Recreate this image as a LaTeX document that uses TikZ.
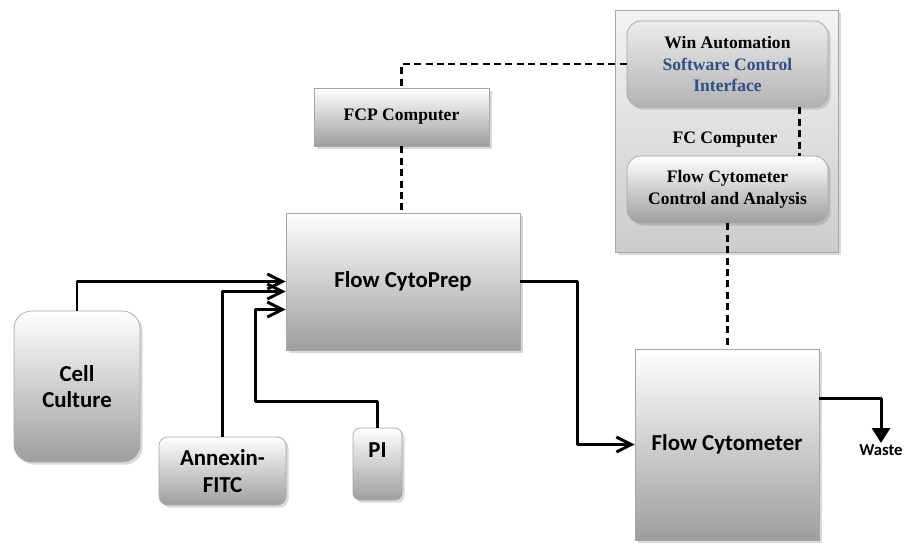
\documentclass[tikz,border=0pt]{standalone}
\usepackage{fontspec}
\setmainfont{Liberation Serif}
\newfontfamily\calib{Carlito}
\usetikzlibrary{arrows.meta,calc,shadows}
\definecolor{swblue}{RGB}{47,80,135}

\begin{document}
\begin{tikzpicture}[x=0.02cm,y=-0.02cm, line join=round,
	box/.style={draw=gray!70, top color=white, bottom color=black!38,
		drop shadow={opacity=.3,shadow xshift=1.5pt,shadow yshift=-1.5pt},
		align=center, inner sep=2pt},
	sbox/.style={box, font=\calib\bfseries\fontsize{13}{15}\selectfont},
	cbox/.style={box, font=\bfseries\fontsize{10}{12.3}\selectfont},
	flow/.style={line width=1.7pt, -{Straight Barb[length=3mm,width=3mm]}},
	link/.style={line width=1.4pt, dash pattern=on 4pt off 2.5pt}]
	\useasboundingbox (0,0) rectangle (906,544);
	% FC computer
	\node[box, top color=gray!10, bottom color=gray!40, minimum width=4.46cm, minimum height=4.84cm] (fcbox) at (726.5,131) {};
	\node[cbox, rounded corners=8pt, top color=gray!15, bottom color=gray!60, minimum width=4.02cm, minimum height=1.72cm] (win) at (727.5,64)
		{Win Automation\\\textcolor{swblue}{Software Control}\\\textcolor{swblue}{Interface}};
	\node[font=\bfseries\fontsize{10}{12.3}\selectfont] (fclabel) at (725,140) {FC Computer};
	\node[cbox, rounded corners=8pt, minimum width=4.02cm, minimum height=1.34cm] (ctrl) at (727.5,189.5) {Flow Cytometer\\Control and Analysis};
	% prep side
	\node[cbox, minimum width=3.5cm, minimum height=1.16cm] (fcp) at (401.5,117) {FCP Computer};
	\node[sbox, minimum width=4.68cm, minimum height=2.74cm] (prep) at (403,281.5) {Flow CytoPrep};
	\node[sbox, rounded corners=10pt, minimum width=2.52cm, minimum height=3.02cm] (cult) at (77,386.5) {Cell\\Culture};
	\node[sbox, rounded corners=5pt, minimum width=2.54cm, minimum height=1.36cm] (annex) at (222.5,471) {Annexin-\\FITC};
	\node[sbox, rounded corners=4pt, minimum width=0.98cm, minimum height=1.44cm, text depth=0.55cm] (pi) at (377.5,464) {PI};
	\node[sbox, minimum width=3.68cm, minimum height=3.82cm] (cyto) at (727,444.5) {Flow Cytometer};
	\node[font=\calib\bfseries\fontsize{9.5}{11.5}\selectfont, anchor=north, inner sep=1pt] (waste) at (881,443) {Waste};
	% fluid lines
	\draw[flow] (cult.north) |- (prep.west);
	\draw[flow] (annex.north) |- ($(prep.west)+(0,10)$);
	\draw[flow] (pi.north) |- ++(-122,-26) |- ($(prep.west)+(0,28)$);
	\draw[flow] (prep.east) -- ++(57,0) |- (cyto.west);
	\draw[line width=1.7pt, -{Triangle[length=3mm,width=3.6mm]}] ($(cyto.east)+(0,-46)$) -| (waste.north);
	% data links
	\draw[link] (win.west) -| (fcp.north);
	\draw[link] (fcp.south) -- (fcp.south |- prep.north);
	\draw[link] ($(win.south east)+(-29,0)$) -- ($(ctrl.north east)+(-29,0)$);
	\draw[link] (ctrl.south) -- (ctrl.south |- cyto.north);
\end{tikzpicture}
\end{document}
